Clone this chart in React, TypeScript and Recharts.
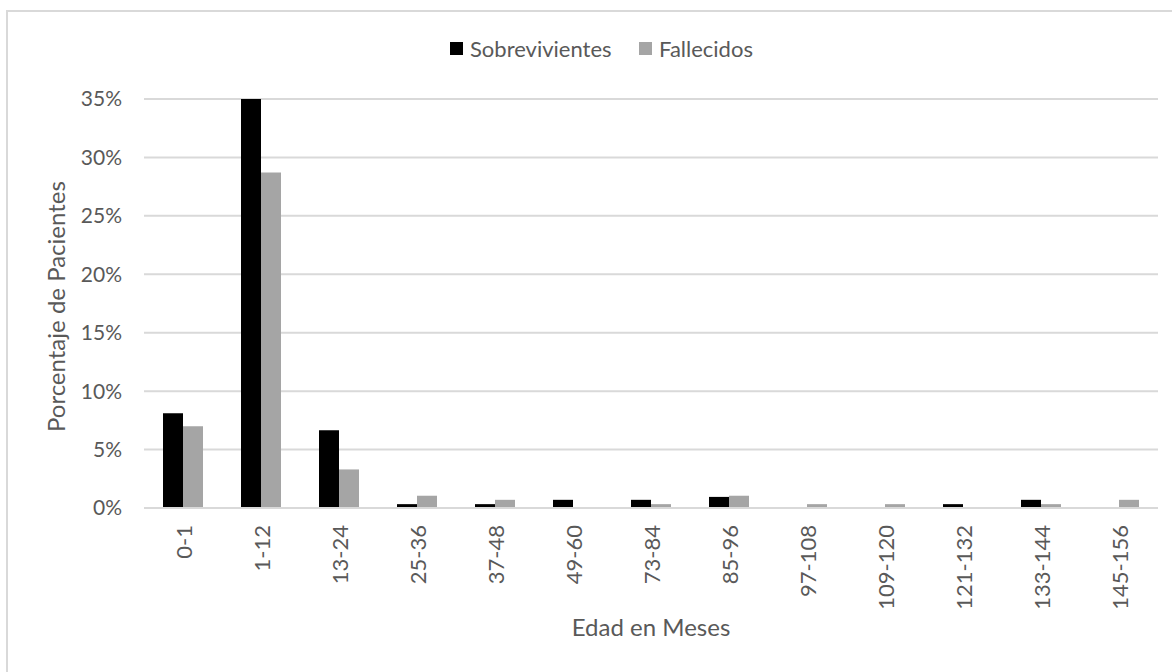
import React from "react";
import { BarChart, Bar, XAxis, YAxis, CartesianGrid, Legend } from "recharts";

const categories = ["0-1", "1-12", "13-24", "25-36", "37-48", "49-60", "73-84", "85-96", "97-108", "109-120", "121-132", "133-144", "145-156"];
const sobrevivientes = [8.1, 35, 6.65, 0.33, 0.33, 0.7, 0.7, 0.95, 0, 0, 0.33, 0.7, 0];
const fallecidos = [7.0, 28.7, 3.3, 1.05, 0.7, 0, 0.33, 1.05, 0.33, 0.33, 0, 0.33, 0.7];
const yTicks = [0, 5, 10, 15, 20, 25, 30, 35];

const FONT = "Lato, 'Open Sans', sans-serif";
const TEXT = "#595959";

const data = categories.map((c, i) => ({
    edad: c,
    Sobrevivientes: sobrevivientes[i],
    Fallecidos: fallecidos[i],
}));

const XTick = (props: any) => {
    const { x, y, payload } = props;
    const ty = y + 17;
    return (
        <text x={x} y={ty} transform={`rotate(-90, ${x}, ${ty})`} textAnchor="end"
              dominantBaseline="central" fill={TEXT} fontSize={22} fontFamily={FONT}>
            {payload.value}
        </text>
    );
};

const LegendBox = () => (
    <div style={{ display: "flex", alignItems: "center", fontFamily: FONT, fontSize: 22, color: TEXT, whiteSpace: "nowrap" }}>
        <span style={{ width: 13, height: 13, background: "#000", marginRight: 7 }} />
        <span style={{ width: 169 }}>Sobrevivientes</span>
        <span style={{ width: 13, height: 13, background: "#a5a5a5", marginRight: 7 }} />
        <span>Fallecidos</span>
    </div>
);

export default function App() {
    return (
        <div style={{ position: "absolute", left: 0, top: 0, width: 1172, height: 672, overflow: "hidden", background: "#fff" }}>
            <div style={{ position: "absolute", left: 6, top: 10, width: 1200, height: 700, border: "2px solid #d9d9d9" }} />
            <BarChart width={1172} height={672} data={data} barGap={0} barSize={20}
                      margin={{ top: 99, right: 14, bottom: 0, left: 84 }}>
                <CartesianGrid vertical={false} stroke="#d9d9d9" strokeWidth={2} />
                <XAxis dataKey="edad" height={164} tick={<XTick />} tickLine={false} tickSize={0} tickMargin={0}
                       axisLine={{ stroke: "#d9d9d9", strokeWidth: 2 }} interval={0}
                       label={{ value: "Edad en Meses", position: "insideBottom", offset: 36, fill: TEXT, fontSize: 24, fontFamily: FONT }} />
                <YAxis width={60} domain={[0, 35]} ticks={yTicks} tickFormatter={(v: number) => `${v}%`}
                       axisLine={false} tickLine={false} tickSize={6} tickMargin={16}
                       tick={{ fill: TEXT, fontSize: 21, fontFamily: FONT }}
                       label={{
                           content: (p: any) => {
                               const vb = p.viewBox;
                               const lx = vb.x - 29;
                               const ly = 432;
                               return (
                                   <text x={lx} y={ly} transform={`rotate(-90, ${lx}, ${ly})`} textAnchor="start"
                                         dominantBaseline="central" fill={TEXT} fontSize={24} fontFamily={FONT}>
                                       Porcentaje de Pacientes
                                   </text>
                               );
                           },
                       }} />
                {/* middle alignment keeps the legend from pushing the plot down */}
                <Legend verticalAlign="middle" align="center" layout="horizontal" content={<LegendBox />}
                        wrapperStyle={{ top: 35, left: 450, width: 400 }} />
                <Bar dataKey="Sobrevivientes" fill="#000000" isAnimationActive={false} />
                <Bar dataKey="Fallecidos" fill="#a5a5a5" isAnimationActive={false} />
            </BarChart>
        </div>
    );
}
